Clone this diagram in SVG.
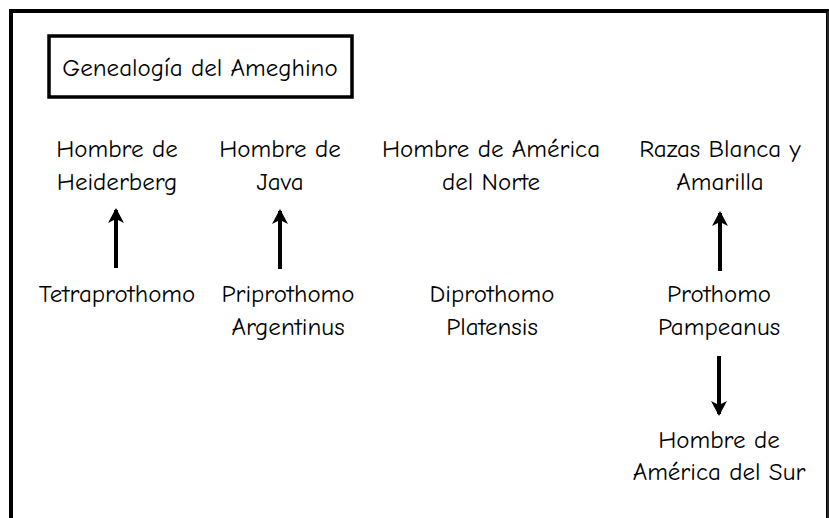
<svg xmlns="http://www.w3.org/2000/svg" width="829" height="518" viewBox="0 0 829 518">
<style>
text{font-family:"Comic Sans MS","Comic Neue","DejaVu Sans",sans-serif;font-size:25px;fill:#000;text-anchor:middle}
.ln{stroke:#000;stroke-width:4;fill:none}
</style>
<defs>
<marker id="ah" markerUnits="userSpaceOnUse" markerWidth="18" markerHeight="16" refX="13" refY="8" orient="auto">
<path d="M0,0 L15,8 L0,16 L4,8 Z" fill="#000"/>
</marker>
</defs>
<rect width="829" height="518" fill="#fff"/>
<path d="M11,530 V11 H828 V530" fill="none" stroke="#000" stroke-width="4"/>
<line x1="828" y1="11" x2="828" y2="530" stroke="#333" stroke-width="1.5"/>
<g id="title">
<rect x="49" y="36" width="303" height="61" fill="none" stroke="#000" stroke-width="3.5"/>
<text x="200" y="76">Genealogía del Ameghino</text>
</g>
<g id="n-heiderberg"><text x="117" y="157">Hombre de</text><text x="117" y="190">Heiderberg</text></g>
<g id="n-java"><text x="280" y="157">Hombre de</text><text x="280" y="190">Java</text></g>
<g id="n-norte"><text x="491" y="157">Hombre de América</text><text x="491" y="190">del Norte</text></g>
<g id="n-razas"><text x="720" y="157">Razas Blanca y</text><text x="720" y="190">Amarilla</text></g>
<g id="n-tetra"><text x="117" y="302">Tetraprothomo</text></g>
<g id="n-pripro"><text x="288" y="302">Priprothomo</text><text x="288" y="335">Argentinus</text></g>
<g id="n-dipro"><text x="492" y="302">Diprothomo</text><text x="492" y="335">Platensis</text></g>
<g id="n-prothomo"><text x="719" y="302">Prothomo</text><text x="719" y="335">Pampeanus</text></g>
<g id="n-sur"><text x="719" y="448">Hombre de</text><text x="719" y="480">América del Sur</text></g>
<g id="connectors">
<line class="ln" x1="116" y1="268" x2="116" y2="210" marker-end="url(#ah)"/>
<line class="ln" x1="280" y1="269" x2="280" y2="211" marker-end="url(#ah)"/>
<line class="ln" x1="720" y1="271" x2="720" y2="213" marker-end="url(#ah)"/>
<line class="ln" x1="719" y1="356" x2="719" y2="414" marker-end="url(#ah)"/>
</g>
</svg>
